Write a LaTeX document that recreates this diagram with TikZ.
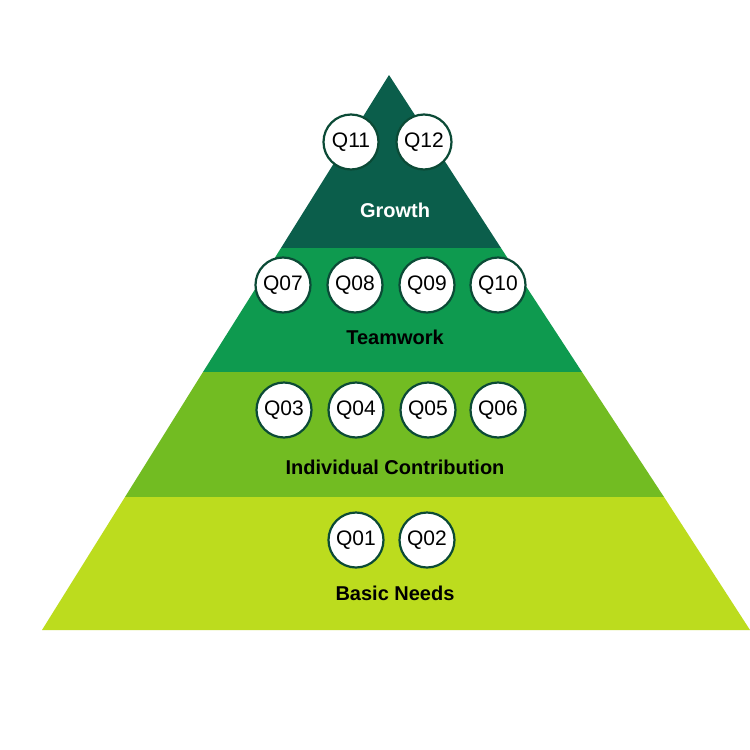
\documentclass[tikz,border=0pt]{standalone}
\usepackage{fontspec}
\setmainfont{Liberation Sans}
\definecolor{cgrow}{HTML}{0B5E4B}
\definecolor{cteam}{HTML}{0E9A4F}
\definecolor{cind}{HTML}{72BC22}
\definecolor{cbase}{HTML}{BCDC1E}
\definecolor{cring}{HTML}{0B4A36}
\begin{document}
\begin{tikzpicture}[x=1pt,y=-1pt,
  q/.style={circle,draw=cring,line width=2.2pt,fill=white,minimum size=55pt,inner sep=0pt,font=\fontsize{21}{21}\selectfont},
  lab/.style={font=\bfseries\fontsize{20}{20}\selectfont}]
\useasboundingbox (0,0) rectangle (750,750);
\fill[white] (0,0) rectangle (750,750);
\fill[cgrow] (389,75) -- (501,248) -- (281,248) -- cycle;
\fill[cteam] (281,248) -- (501,248) -- (582,372) -- (203,372) -- cycle;
\fill[cind] (203,372) -- (582,372) -- (664,497) -- (125,497) -- cycle;
\fill[cbase] (125,497) -- (664,497) -- (750,630) -- (42,630) -- cycle;
\node[q] (q11) at (351,142) {Q11};
\node[q] (q12) at (424,142) {Q12};
\node[q] (q07) at (283,285) {Q07};
\node[q] (q08) at (355,285) {Q08};
\node[q] (q09) at (427,285) {Q09};
\node[q] (q10) at (498,285) {Q10};
\node[q] (q03) at (284,410) {Q03};
\node[q] (q04) at (356,410) {Q04};
\node[q] (q05) at (428,410) {Q05};
\node[q] (q06) at (498,410) {Q06};
\node[q] (q01) at (356,540) {Q01};
\node[q] (q02) at (427,540) {Q02};
\node[lab,white] (lg) at (395,210) {Growth};
\node[lab] (lt) at (395,337) {Teamwork};
\node[lab] (li) at (395,467) {Individual Contribution};
\node[lab] (lb) at (395,593) {Basic Needs};
\end{tikzpicture}
\end{document}
